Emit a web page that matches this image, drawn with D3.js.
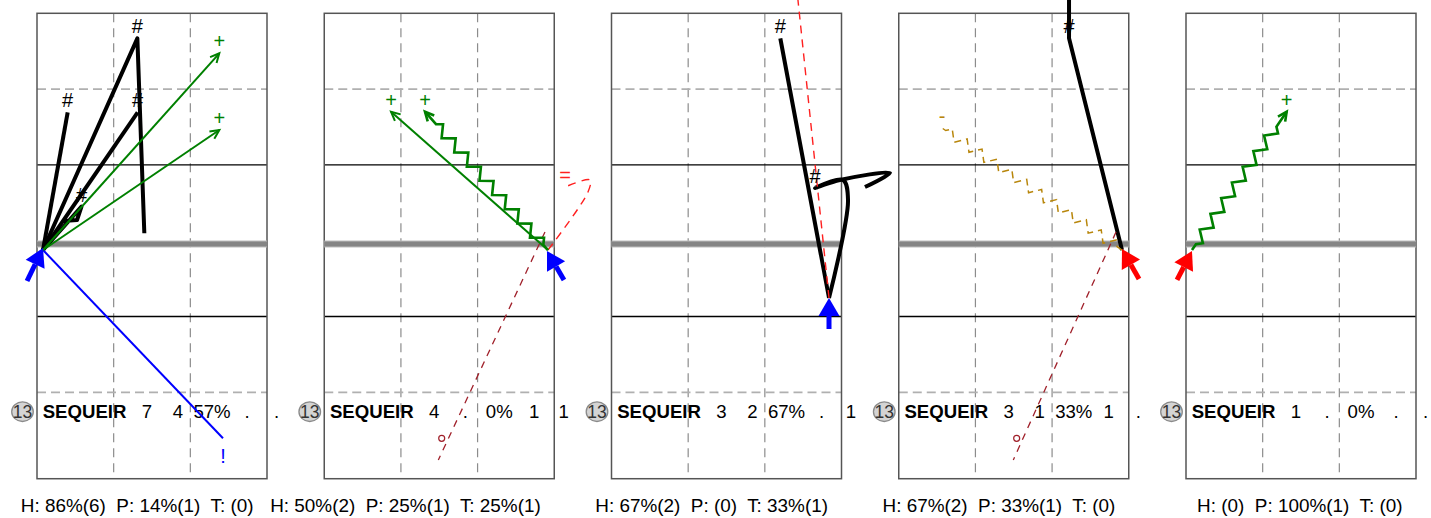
<!DOCTYPE html>
<html><head><meta charset="utf-8">
<script src="https://cdn.jsdelivr.net/npm/d3@7"></script>
<style>
body{margin:0;background:#fff}
text{font-family:"Liberation Sans",Arial,Helvetica,sans-serif}
</style>
</head><body>
<svg id="chart" width="1431" height="518"></svg>
<script>
// ---------------- data (court units: x 0.5..3.5, y 0.5..6.5, net at 3.5) ----------------
const panelIds = [0, 1, 2, 3, 4];
const playerNumbers = ["13", "13", "13", "13", "13"];
const playerNames = ["SEQUEIR", "SEQUEIR", "SEQUEIR", "SEQUEIR", "SEQUEIR"];
const statColumns = [
  ["7", "4", "57%", ".", "."],
  ["4", ".", "0%", "1", "1"],
  ["3", "2", "67%", ".", "1"],
  ["3", "1", "33%", "1", "."],
  ["1", ".", "0%", ".", "."]
];
const summaries = [
  "H: 86%(6)  P: 14%(1)  T: (0)",
  "H: 50%(2)  P: 25%(1)  T: 25%(1)",
  "H: 67%(2)  P: (0)  T: 33%(1)",
  "H: 67%(2)  P: 33%(1)  T: (0)",
  "H: (0)  P: 100%(1)  T: (0)"
];
// attack start points per panel
const startPts = [[0.578, 3.377], [3.418, 3.377], [3.337, 2.744], [3.412, 3.377], [0.578, 3.377]];
// direction icons
const iconTips  = [[0.578, 3.403], [3.405, 3.364], [3.337, 2.744], [3.412, 3.390], [0.578, 3.364]];
const iconTails = [[0.370, 2.968], [3.627, 2.982], [3.337, 2.335], [3.634, 2.995], [0.383, 2.982]];
const iconColors = ["#0000ff", "#0000ff", "#0000ff", "#ff0000", "#ff0000"];
// kills "#": thick black paths (points after start)
const killPanel = [0, 0, 0, 0, 2, 2, 3];
const killPaths = [
  [[0.900, 5.194]],
  [[1.809, 6.170], [1.900, 3.598]],
  [[1.813, 5.194]],
  [[1.080, 3.949], [1.022, 3.773], [0.839, 3.760]],
  [[2.702, 6.170]],
  [[3.585, 4.037], [3.519, 4.301], [3.154, 4.195], [3.480, 4.301], [4.132, 4.393], [3.806, 4.208]],
  [[2.721, 6.170], [2.721, 6.740]]
];
const killLabelIdx = [0, 0, 0, 0, 0, 2, 0];
const killCurved = [false, false, false, false, false, true, false];
// positive "+": green arrows
const greenPanel = [0, 0, 1, 1, 4];
const greenEnds = [[2.878, 5.972], [2.878, 4.960], [1.371, 5.202], [1.814, 5.202], [1.813, 5.202]];
const greenWavy = [false, false, false, true, true];
// error "!" (blue)
const bluePanel = [0];
const blueEnds = [[2.926, 0.893]];
// "=" / red dashed
const redPanel = [1, 2];
const redPaths = [[[3.940, 4.142], [3.966, 4.301], [3.640, 4.208]], [[2.932, 6.676]]];
const redLabels = ["=", ""];
// dark red dashed with circle marker
const darkPanel = [1, 3];
const darkFrom = [[3.379, 3.615], [3.334, 3.615]];
const darkTo = [[1.988, 0.607], [1.994, 0.607]];
const darkCircle = [[2.032, 0.893], [2.038, 0.893]];
// "-" gold dashed zigzag
const goldPanel = [3];
const goldEnds = [[1.064, 4.987]];

// ---------------- layout ----------------
const svg = d3.select("#chart");
const panelLeft = i => 37 + 287.25 * i;
const yS = d3.scaleLinear().domain([0.5, 6.5]).range([468.1, 13.3]);
const xScales = panelIds.map(i => d3.scaleLinear().domain([0.5, 3.5]).range([panelLeft(i), panelLeft(i) + 230]));
const frameBottom = 0.36, netY = 3.456;
const FONT = 18.6, LABEL_FONT = 20;

const gGrid = svg.append("g"), gText = svg.append("g"), gNet = svg.append("g"), gMarks = svg.append("g"), gLab = svg.append("g"), gIcon = svg.append("g");

panelIds.forEach(i => {
  const x = xScales[i];
  [1.5, 2.5].forEach(v => gGrid.append("line").attr("x1", x(v)).attr("x2", x(v)).attr("y1", yS(6.5)).attr("y2", yS(frameBottom))
    .attr("stroke", "#8c8c8c").attr("stroke-width", 1.2).attr("stroke-dasharray", "9,6"));
  [1.5, 5.5].forEach(v => gGrid.append("line").attr("x1", x(0.5)).attr("x2", x(3.5)).attr("y1", yS(v)).attr("y2", yS(v))
    .attr("stroke", "#b0b0b0").attr("stroke-width", 1.8).attr("stroke-dasharray", "9,5"));
  [2.5, 4.5].forEach(v => gGrid.append("line").attr("x1", x(0.5)).attr("x2", x(3.5)).attr("y1", yS(v)).attr("y2", yS(v))
    .attr("stroke", "#000").attr("stroke-width", 1.3));
  gGrid.append("rect").attr("x", x(0.5)).attr("y", yS(6.5)).attr("width", x(3.5) - x(0.5)).attr("height", yS(frameBottom) - yS(6.5))
    .attr("fill", "none").attr("stroke", "#555").attr("stroke-width", 1.5);
  gNet.append("line").attr("x1", x(0.5)).attr("x2", x(3.5)).attr("y1", yS(netY)).attr("y2", yS(netY)).attr("stroke", "#bdbdbd").attr("stroke-width", 7);
  gNet.append("line").attr("x1", x(0.5)).attr("x2", x(3.5)).attr("y1", yS(netY)).attr("y2", yS(netY)).attr("stroke", "#858585").attr("stroke-width", 5);

  const L = panelLeft(i), rowY = 418;
  gText.append("ellipse").attr("cx", L - 14.5).attr("cy", rowY - 6.3).attr("rx", 10.8).attr("ry", 9.8)
    .attr("fill", "#d4d4d4").attr("stroke", "#8a8a8a").attr("stroke-width", 1.3);
  gText.append("text").attr("x", L - 14.5).attr("y", rowY).attr("text-anchor", "middle").attr("font-size", 17.5).attr("fill", "#333").text(playerNumbers[i]);
  gText.append("text").attr("x", L + 5.7).attr("y", rowY).attr("font-size", FONT).attr("font-weight", "bold").attr("fill", "#000").text(playerNames[i]);
  const colX = [110, 141, 175, 210, 239.5];
  statColumns[i].forEach((s, k) => gText.append("text").attr("x", L + colX[k]).attr("y", rowY).attr("text-anchor", "middle")
    .attr("font-size", FONT).attr("fill", "#000").text(s));
  gText.append("text").attr("x", L + 230 - 13.5).attr("y", 511.7).attr("text-anchor", "end").attr("font-size", 18.9)
    .style("white-space", "pre").attr("fill", "#000").text(summaries[i]);
});

const P = (i, p) => [xScales[i](p[0]), yS(p[1])];
function label(i, p, txt, color, down) {
  const q = P(i, p);
  gLab.append("text").attr("x", q[0]).attr("y", down ? q[1] + 25 : q[1] - 5).attr("text-anchor", "middle")
    .attr("font-size", LABEL_FONT).attr("fill", color).text(txt);
}
function arrowHead(g, tip, from, color, w, len) {
  const ang = Math.atan2(tip[1] - from[1], tip[0] - from[0]), a = 0.45;
  const p1 = [tip[0] - len * Math.cos(ang - a), tip[1] - len * Math.sin(ang - a)];
  const p2 = [tip[0] - len * Math.cos(ang + a), tip[1] - len * Math.sin(ang + a)];
  g.append("path").attr("d", d3.line()([p1, tip, p2])).attr("fill", "none").attr("stroke", color).attr("stroke-width", w)
    .attr("stroke-linejoin", "miter");
}
function zigzag(p0, p1, lead0, lead1, h, a) {
  const dx = p1[0] - p0[0], dy = p1[1] - p0[1], len = Math.hypot(dx, dy);
  const d = [dx / len, dy / len], n = [-d[1], d[0]];
  const pts = [p0];
  const at = (s, o) => [p0[0] + d[0] * s + n[0] * o, p0[1] + d[1] * s + n[1] * o];
  pts.push(at(lead0, 0));
  let s = lead0 + h / 2, k = 0;
  while (s + h / 2 <= len - lead1) { pts.push(at(s, k % 2 ? -a : a)); s += h; k++; }
  pts.push(at(s - h / 2, 0));
  pts.push(p1);
  return pts;
}

killPaths.forEach((path, j) => {
  const i = killPanel[j];
  const pts = [startPts[i]].concat(path).map(p => P(i, p));
  const gen = d3.line().curve(killCurved[j] ? d3.curveCatmullRom.alpha(0.5) : d3.curveLinear);
  gMarks.append("path").attr("d", gen(pts)).attr("fill", "none").attr("stroke", "#000").attr("stroke-width", 4)
    .attr("stroke-linejoin", "round");
  label(i, path[killLabelIdx[j]], "#", "#000", false);
});

redPaths.forEach((path, j) => {
  const i = redPanel[j];
  const pts = [startPts[i]].concat(path).map(p => P(i, p));
  gMarks.append("path").attr("d", d3.line().curve(d3.curveCatmullRom.alpha(0.5))(pts)).attr("fill", "none")
    .attr("stroke", "#ff2020").attr("stroke-width", 1.4).attr("stroke-dasharray", "8,6");
  if (redLabels[j]) label(i, path[path.length - 1], redLabels[j], "#ff2020", false);
});

darkPanel.forEach((i, j) => {
  gMarks.append("line").attr("x1", P(i, darkFrom[j])[0]).attr("y1", P(i, darkFrom[j])[1])
    .attr("x2", P(i, darkTo[j])[0]).attr("y2", P(i, darkTo[j])[1])
    .attr("stroke", "#a0202a").attr("stroke-width", 1.3).attr("stroke-dasharray", "7,6");
  const c = P(i, darkCircle[j]);
  gMarks.append("circle").attr("cx", c[0]).attr("cy", c[1]).attr("r", 3).attr("fill", "#fff").attr("stroke", "#a0202a").attr("stroke-width", 1.2);
});

goldPanel.forEach((i, j) => {
  const pts = zigzag(P(i, startPts[i]), P(i, goldEnds[j]), 6, 4, 9, 5);
  gMarks.append("path").attr("d", d3.line()(pts)).attr("fill", "none").attr("stroke", "#b8860b").attr("stroke-width", 1.5)
    .attr("stroke-dasharray", "7,5");
  label(i, goldEnds[j], "-", "#b8860b", false);
});

bluePanel.forEach((i, j) => {
  const a = P(i, startPts[i]), b = P(i, blueEnds[j]);
  gMarks.append("line").attr("x1", a[0]).attr("y1", a[1]).attr("x2", b[0]).attr("y2", b[1]).attr("stroke", "#0000ff").attr("stroke-width", 2);
  label(i, blueEnds[j], "!", "#0000ff", true);
});

greenEnds.forEach((e, j) => {
  const i = greenPanel[j];
  const a = P(i, startPts[i]), b = P(i, e);
  if (greenWavy[j]) {
    const pts = zigzag(a, b, 7, 11, 9.5, 5.2);
    gMarks.append("path").attr("d", d3.line()(pts)).attr("fill", "none").attr("stroke", "#008000").attr("stroke-width", 2.6)
      .attr("stroke-linejoin", "miter");
    arrowHead(gMarks, b, pts[pts.length - 2], "#008000", 2.6, 10);
  } else {
    gMarks.append("line").attr("x1", a[0]).attr("y1", a[1]).attr("x2", b[0]).attr("y2", b[1]).attr("stroke", "#008000").attr("stroke-width", 2);
    arrowHead(gMarks, b, a, "#008000", 2, 10);
  }
  label(i, e, "+", "#008000", false);
});

panelIds.forEach(i => {
  const tip = P(i, iconTips[i]), tail = P(i, iconTails[i]);
  const ang = Math.atan2(tip[1] - tail[1], tip[0] - tail[0]);
  const hl = 18, hw = 10.5;
  const base = [tip[0] - hl * Math.cos(ang), tip[1] - hl * Math.sin(ang)];
  gIcon.append("line").attr("x1", tail[0]).attr("y1", tail[1]).attr("x2", base[0]).attr("y2", base[1])
    .attr("stroke", iconColors[i]).attr("stroke-width", 5);
  const nx = -Math.sin(ang), ny = Math.cos(ang);
  gIcon.append("path").attr("d", d3.line()([tip, [base[0] + nx * hw, base[1] + ny * hw], [base[0] - nx * hw, base[1] - ny * hw]]) + "Z")
    .attr("fill", iconColors[i]);
});
</script>
</body></html>
